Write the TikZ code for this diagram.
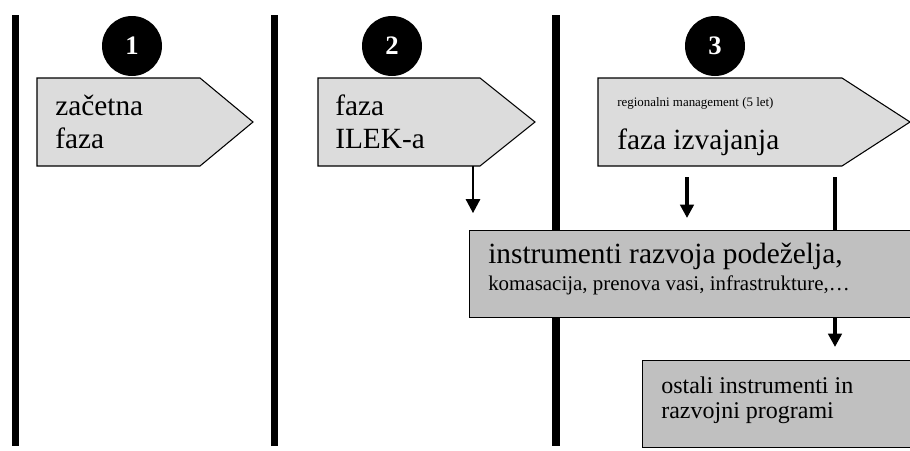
\documentclass[tikz,border=0pt]{standalone}
\usepackage{fontspec}
\setmainfont{Liberation Serif}
\usetikzlibrary{arrows.meta}
\definecolor{phasegray}{HTML}{DCDCDC}
\definecolor{toolgray}{HTML}{C0C0C0}
\newcommand{\bigtxt}{\fontsize{22}{24.75}\selectfont}
\newcommand{\midtxt}{\fontsize{15.7}{18}\selectfont}
\newcommand{\boxtxt}{\fontsize{18}{18.75}\selectfont}
\newcommand{\smalltxt}{\fontsize{9.7}{12}\selectfont}
\begin{document}
\begin{tikzpicture}[x=0.75pt,y=-0.75pt,
  divider/.style={line width=5.4pt},
  phase/.style={draw, line width=0.8pt, fill=phasegray},
  toolbox/.style={draw, line width=0.8pt, fill=toolgray, anchor=north west, inner sep=0pt},
  badge/.style={circle, fill=black, minimum size=45pt, inner sep=0pt, text=white,
    font=\fontsize{20}{20}\selectfont\bfseries},
  txt/.style={anchor=base west, align=left, inner sep=0pt},
  thin arrow/.style={-{Triangle[width=11pt,length=10.5pt]}, line width=0.8pt},
  thick arrow/.style={-{Triangle[width=10pt,length=10pt]}, line width=3.6pt},
  thick line/.style={line width=3.6pt}]
\useasboundingbox (0,0) rectangle (910,450);
\clip (0,0) rectangle (910,450);
% ločilne črte med fazami
\draw[divider] (15.5,15) -- (15.5,446);
\draw[divider] (274.5,15) -- (274.5,446);
\draw[divider] (556,15) -- (556,446);
% številke faz
\node[badge] (n1) at (132,46) {1};
\node[badge] (n2) at (392,46) {2};
\node[badge] (n3) at (715,46) {3};
% faza 1
\draw[phase] (37,78) -- (200,78) -- (253,122) -- (200,166) -- (37,166) -- cycle;
\node[txt, font=\bigtxt] (t1) at (55,148) {začetna\\faza};
% faza 2
\draw[phase] (318,78) -- (480,78) -- (535,122) -- (480,166) -- (318,166) -- cycle;
\node[txt, font=\bigtxt] (t2) at (335,148) {faza\\ILEK-a};
% faza 3
\draw[phase] (598,78) -- (842,78) -- (910,122) -- (842,166) -- (598,166) -- cycle;
\node[txt, font=\smalltxt] (t3a) at (617,106) {regionalni management (5 let)};
\node[txt, font=\bigtxt] (t3b) at (617,149) {faza izvajanja};
% puščice
\coordinate (f2) at (473,166);
\coordinate (f2e) at (473,213);
\coordinate (f3) at (687,177);
\coordinate (f3e) at (687,218);
\coordinate (r) at (835,177);
\draw[thin arrow] (f2) -- (f2e);
\draw[thick arrow] (f3) -- (f3e);
\draw[thick line] (r) -- (835,230);
% instrumenti
\node[toolbox, minimum width=345.75pt, minimum height=65.25pt] (tools) at (469,230) {};
\node[txt, font=\bigtxt] (t4a) at (488,263) {instrumenti razvoja podeželja,};
\node[txt, font=\midtxt] (t4b) at (488,290) {komasacija, prenova vasi, infrastrukture,…};
\coordinate (r2e) at (835,347);
\draw[thick arrow] (r |- tools.south) -- (r2e);
% ostali programi
\node[toolbox, minimum width=216pt, minimum height=65.25pt] (other) at (642,360) {};
\node[txt, font=\boxtxt] (t5) at (661,418) {ostali instrumenti in\\razvojni programi};
\end{tikzpicture}
\end{document}
